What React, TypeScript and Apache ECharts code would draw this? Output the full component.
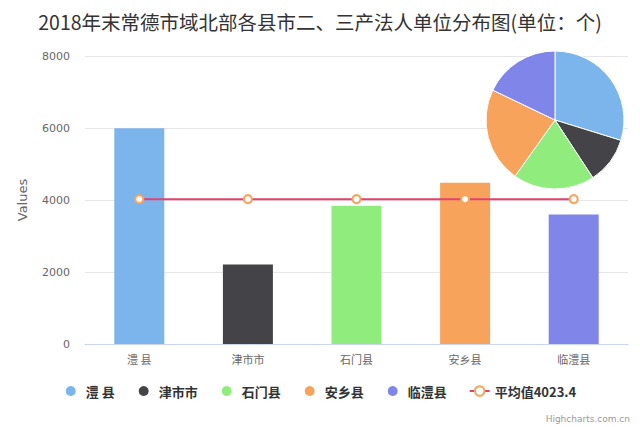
import React, { useEffect, useRef } from "react";
import * as echarts from "echarts";

const categories = ["澧 县", "津市市", "石门县", "安乡县", "临澧县"];
const values = [5990, 2210, 3840, 4480, 3597];
const colors = ["#7cb5ec", "#434348", "#90ed7d", "#f7a35c", "#8085e9"];
const averageName = "平均值4023.4";
const averageValues = [4023.4, 4023.4, 4023.4, 4023.4, 4023.4];
const yTicks = [0, 2000, 4000, 6000, 8000];

const FONT = "'DejaVu Sans', 'Noto Sans CJK SC', sans-serif";
const CJK = "'Noto Sans CJK SC', sans-serif";

export default function App() {
  const ref = useRef<HTMLDivElement>(null);
  useEffect(() => {
    if (!ref.current) return;
    const chart = echarts.init(ref.current, null, { renderer: "svg" });
    chart.setOption({
      animation: false,
      textStyle: { fontFamily: FONT },
      title: {
        text: "2018年末常德市域北部各县市二、三产法人单位分布图(单位：个)",
        left: "center",
        top: 7,
        textStyle: { fontSize: 19.5, fontWeight: "normal", color: "#333", fontFamily: CJK },
      },
      grid: { left: 85, right: 12, top: 56, bottom: 83 },
      xAxis: {
        type: "category",
        data: categories,
        axisLine: { lineStyle: { color: "#ccd6eb" } },
        axisTick: { show: false },
        axisLabel: { color: "#666", fontSize: 11, margin: 9, fontFamily: CJK },
      },
      yAxis: {
        type: "value",
        min: yTicks[0],
        max: yTicks[yTicks.length - 1],
        interval: 2000,
        name: "Values",
        nameLocation: "middle",
        nameGap: 56,
        nameTextStyle: { color: "#666", fontSize: 13, fontFamily: FONT },
        axisLine: { show: false },
        axisTick: { show: false },
        axisLabel: { color: "#666", fontSize: 11, margin: 15, fontFamily: FONT, formatter: (v: number) => String(v) },
        splitLine: { lineStyle: { color: "#e6e6e6" } },
      },
      legend: {
        bottom: 24,
        left: "center",
        itemGap: 22,
        itemWidth: 20,
        itemHeight: 12,
        textStyle: { fontSize: 13, fontWeight: "bold", color: "#333", fontFamily: CJK },
        data: [
          ...categories.map((c) => ({ name: c, icon: "circle" })),
          { name: averageName },
        ],
      },
      graphic: [
        {
          type: "text",
          right: 10,
          bottom: 4,
          style: { text: "Highcharts.com.cn", fill: "#999", fontSize: 9, fontFamily: FONT },
        },
      ],
      series: [
        {
          type: "bar",
          name: "bars",
          barWidth: 50,
          data: values.map((v, i) => ({ value: v, itemStyle: { color: colors[i] } })),
          z: 2,
        },
        {
          type: "line",
          name: averageName,
          data: averageValues,
          symbol: "circle",
          symbolSize: 8,
          lineStyle: { color: "#e4416e", width: 2 },
          itemStyle: { color: "#fff", borderColor: "#f7a35c", borderWidth: 2 },
          z: 3,
        },
        {
          type: "pie",
          name: "pie",
          center: [555, 120],
          radius: 69,
          startAngle: 90,
          clockwise: true,
          label: { show: false },
          labelLine: { show: false },
          itemStyle: { borderColor: "#fff", borderWidth: 1 },
          data: categories.map((c, i) => ({ name: c, value: values[i], itemStyle: { color: colors[i] } })),
          z: 4,
        },
      ],
    });
    return () => chart.dispose();
  }, []);
  return <div ref={ref} style={{ width: 640, height: 427, position: "absolute", left: 0, top: 0 }} />;
}
